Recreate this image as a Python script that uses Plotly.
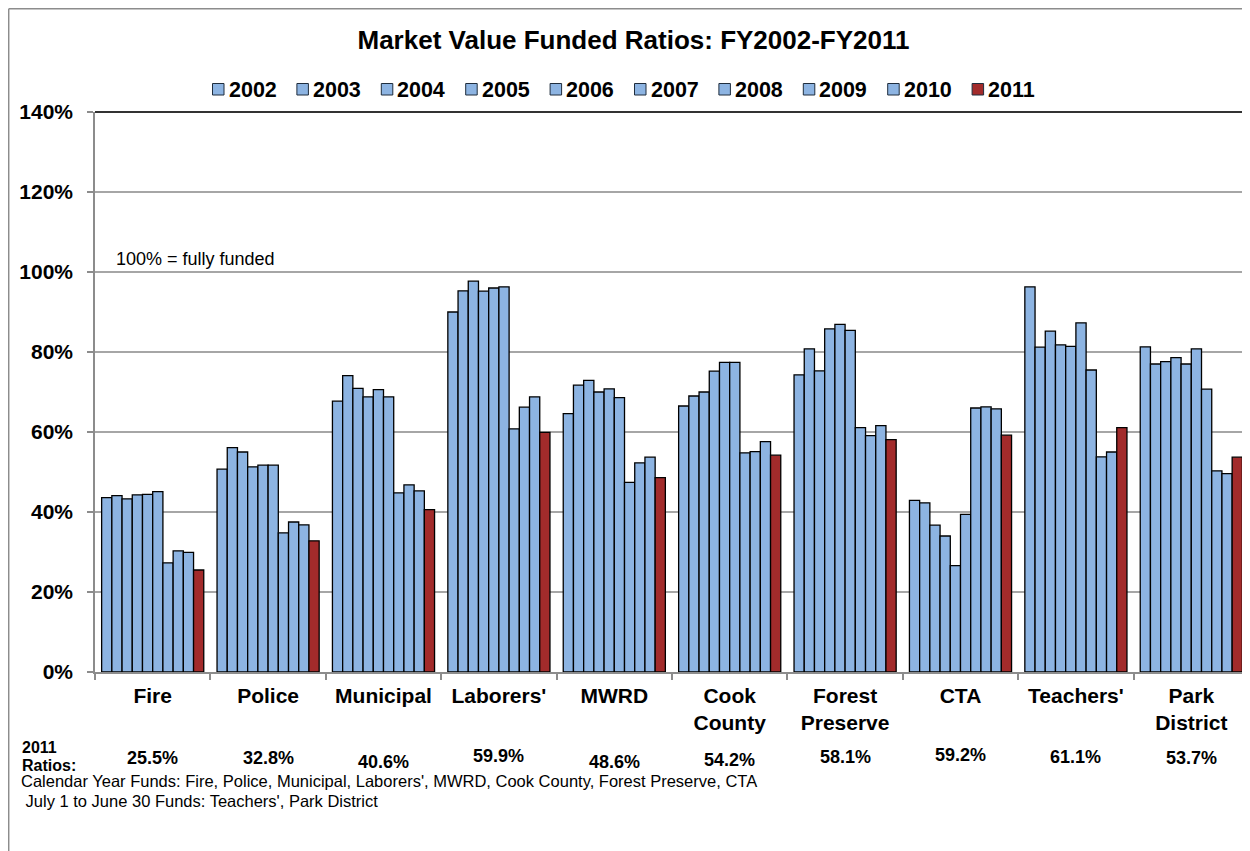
import plotly.graph_objects as go

funds = ["Fire", "Police", "Municipal", "Laborers'", "MWRD", "Cook County",
         "Forest Preserve", "CTA", "Teachers'", "Park District"]
fund_labels = ["Fire", "Police", "Municipal", "Laborers'", "MWRD", "Cook<br>County",
               "Forest<br>Preserve", "CTA", "Teachers'", "Park<br>District"]
years = ["2002", "2003", "2004", "2005", "2006", "2007", "2008", "2009", "2010", "2011"]

v2002 = [43.6, 50.7, 67.7, 90.0, 64.6, 66.5, 74.3, 42.9, 96.3, 81.3]
v2003 = [44.1, 56.1, 74.1, 95.3, 71.7, 69.0, 80.8, 42.3, 81.2, 77.0]
v2004 = [43.3, 55.0, 70.9, 97.7, 72.9, 70.0, 75.3, 36.7, 85.2, 77.6]
v2005 = [44.3, 51.3, 68.8, 95.2, 70.0, 75.2, 85.8, 34.0, 81.8, 78.6]
v2006 = [44.4, 51.7, 70.6, 96.0, 70.8, 77.4, 86.9, 26.6, 81.4, 77.0]
v2007 = [45.1, 51.7, 68.8, 96.3, 68.6, 77.4, 85.4, 39.4, 87.3, 80.8]
v2008 = [27.3, 34.8, 44.8, 60.8, 47.4, 54.8, 61.1, 66.0, 75.5, 70.7]
v2009 = [30.3, 37.5, 46.8, 66.2, 52.3, 55.1, 59.1, 66.3, 53.8, 50.3]
v2010 = [29.9, 36.8, 45.3, 68.8, 53.7, 57.6, 61.6, 65.8, 55.0, 49.6]
v2011 = [25.5, 32.8, 40.6, 59.9, 48.6, 54.2, 58.1, 59.2, 61.1, 53.7]
series = [v2002, v2003, v2004, v2005, v2006, v2007, v2008, v2009, v2010, v2011]

yticks = [0, 20, 40, 60, 80, 100, 120, 140]
yticktext = ["0%", "20%", "40%", "60%", "80%", "100%", "120%", "140%"]

# small vertical placement tweaks (page px) for the 2011 ratio labels
ratio_label_y = [758, 758, 762, 756, 762, 760, 757, 755, 757, 758]

BLUE = "#8DB4E2"
RED = "#A22B2B"
FONT = "Liberation Sans, Arial, sans-serif"

fig = go.Figure()
for yr, vals in zip(years, series):
    fig.add_trace(go.Bar(
        x=funds, y=vals, name=yr,
        marker=dict(color=RED if yr == "2011" else BLUE,
                    line=dict(color="#000000", width=1.3)),
    ))

OFF = 8  # page body margin
W, H = 1250 - OFF, 851 - OFF
L, R, T, B = 95 - OFF, 1, 112 - OFF, 851 - 672
pw = W - L - R
ph = H - T - B


def fx(p):
    """page x pixel -> paper x"""
    return (p - OFF - L) / pw


def fy(p):
    """page y pixel -> paper y"""
    return (H - B - (p - OFF)) / ph


annotations = []
shapes = []

# manual legend
for i, yr in enumerate(years):
    sx = 212.5 + i * 84.4
    shapes.append(dict(type="rect", xref="paper", yref="paper",
                       x0=fx(sx), x1=fx(sx + 11.5), y0=fy(95), y1=fy(83.5),
                       fillcolor=RED if yr == "2011" else BLUE,
                       line=dict(color="#1F2D3D", width=1)))
    annotations.append(dict(text="<b>%s</b>" % yr, xref="paper", yref="paper",
                            x=fx(sx + 14), y=fy(89.5), xanchor="left", yanchor="middle",
                            showarrow=False,
                            font=dict(family=FONT, size=21.5, color="#000")))

# note
annotations.append(dict(text="100% = fully funded", xref="paper", yref="paper",
                        x=fx(114), y=fy(259), xanchor="left", yanchor="middle",
                        showarrow=False, font=dict(family=FONT, size=18, color="#000")))
# 2011 ratios label
annotations.append(dict(text="<b>2011</b>", xref="paper", yref="paper",
                        x=fx(20), y=fy(747), xanchor="left", yanchor="middle",
                        showarrow=False, font=dict(family=FONT, size=16, color="#000")))
annotations.append(dict(text="<b>Ratios:</b>", xref="paper", yref="paper",
                        x=fx(20), y=fy(765), xanchor="left", yanchor="middle",
                        showarrow=False, font=dict(family=FONT, size=16, color="#000")))
for f, v, yy in zip(funds, v2011, ratio_label_y):
    annotations.append(dict(text="<b>%.1f%%</b>" % v, xref="x", yref="paper",
                            x=f, y=fy(yy), xanchor="center", yanchor="middle",
                            showarrow=False,
                            font=dict(family=FONT, size=18, color="#000")))
# footnotes
annotations.append(dict(text="Calendar Year Funds: Fire, Police, Municipal, Laborers', MWRD, Cook County, Forest Preserve, CTA",
                        xref="paper", yref="paper", x=fx(19), y=fy(781),
                        xanchor="left", yanchor="middle", showarrow=False,
                        font=dict(family=FONT, size=16.5, color="#000")))
annotations.append(dict(text=" July 1 to June 30 Funds: Teachers', Park District",
                        xref="paper", yref="paper", x=fx(19), y=fy(801),
                        xanchor="left", yanchor="middle", showarrow=False,
                        font=dict(family=FONT, size=16.5, color="#000")))

shapes += [
    # outer chart frame (left and top)
    dict(type="line", xref="paper", yref="paper", x0=fx(8.7), x1=fx(8.7),
         y0=fy(8.7), y1=fy(860), line=dict(color="#8C8C8C", width=1.5)),
    dict(type="line", xref="paper", yref="paper", x0=fx(8.7), x1=fx(1260),
         y0=fy(8.7), y1=fy(8.7), line=dict(color="#8C8C8C", width=1.5)),
    # plot area top and right border (dark)
    dict(type="line", xref="paper", yref="paper", x0=0, x1=1, y0=1, y1=1,
         line=dict(color="#333333", width=2)),
    dict(type="line", xref="paper", yref="paper", x0=1, x1=1, y0=0, y1=1,
         line=dict(color="#333333", width=2)),
]

fig.update_layout(
    width=W, height=H,
    margin=dict(l=L, r=R, t=T, b=B),
    paper_bgcolor="white", plot_bgcolor="white",
    barmode="group", bargap=0.115, bargroupgap=0,
    showlegend=False,
    title=dict(text="<b>Market Value Funded Ratios: FY2002-FY2011</b>",
               x=(633.5 - OFF) / W, xanchor="center",
               y=1 - (40 - OFF) / H, yanchor="middle",
               font=dict(family=FONT, size=26, color="#000")),
    font=dict(family=FONT, color="#000"),
    xaxis=dict(tickmode="array", tickvals=funds, ticktext=fund_labels,
               tickson="boundaries", ticks="outside", ticklen=6,
               tickcolor="#8C8C8C", tickwidth=1.5,
               showline=True, linecolor="#8C8C8C", linewidth=1.5,
               showgrid=False, ticklabelstandoff=4,
               tickfont=dict(family=FONT, size=21, color="#000", weight="bold")),
    yaxis=dict(range=[0, 140], tickmode="array", tickvals=yticks, ticktext=yticktext,
               ticks="outside", ticklen=6, tickcolor="#8C8C8C", tickwidth=1.5,
               showline=True, linecolor="#8C8C8C", linewidth=1.5,
               showgrid=True, gridcolor="#A6A6A6", gridwidth=1.5,
               zeroline=False, ticklabelstandoff=10,
               tickfont=dict(family=FONT, size=21, color="#000", weight="bold")),
    annotations=annotations, shapes=shapes,
)

fig.write_html("out.html")
